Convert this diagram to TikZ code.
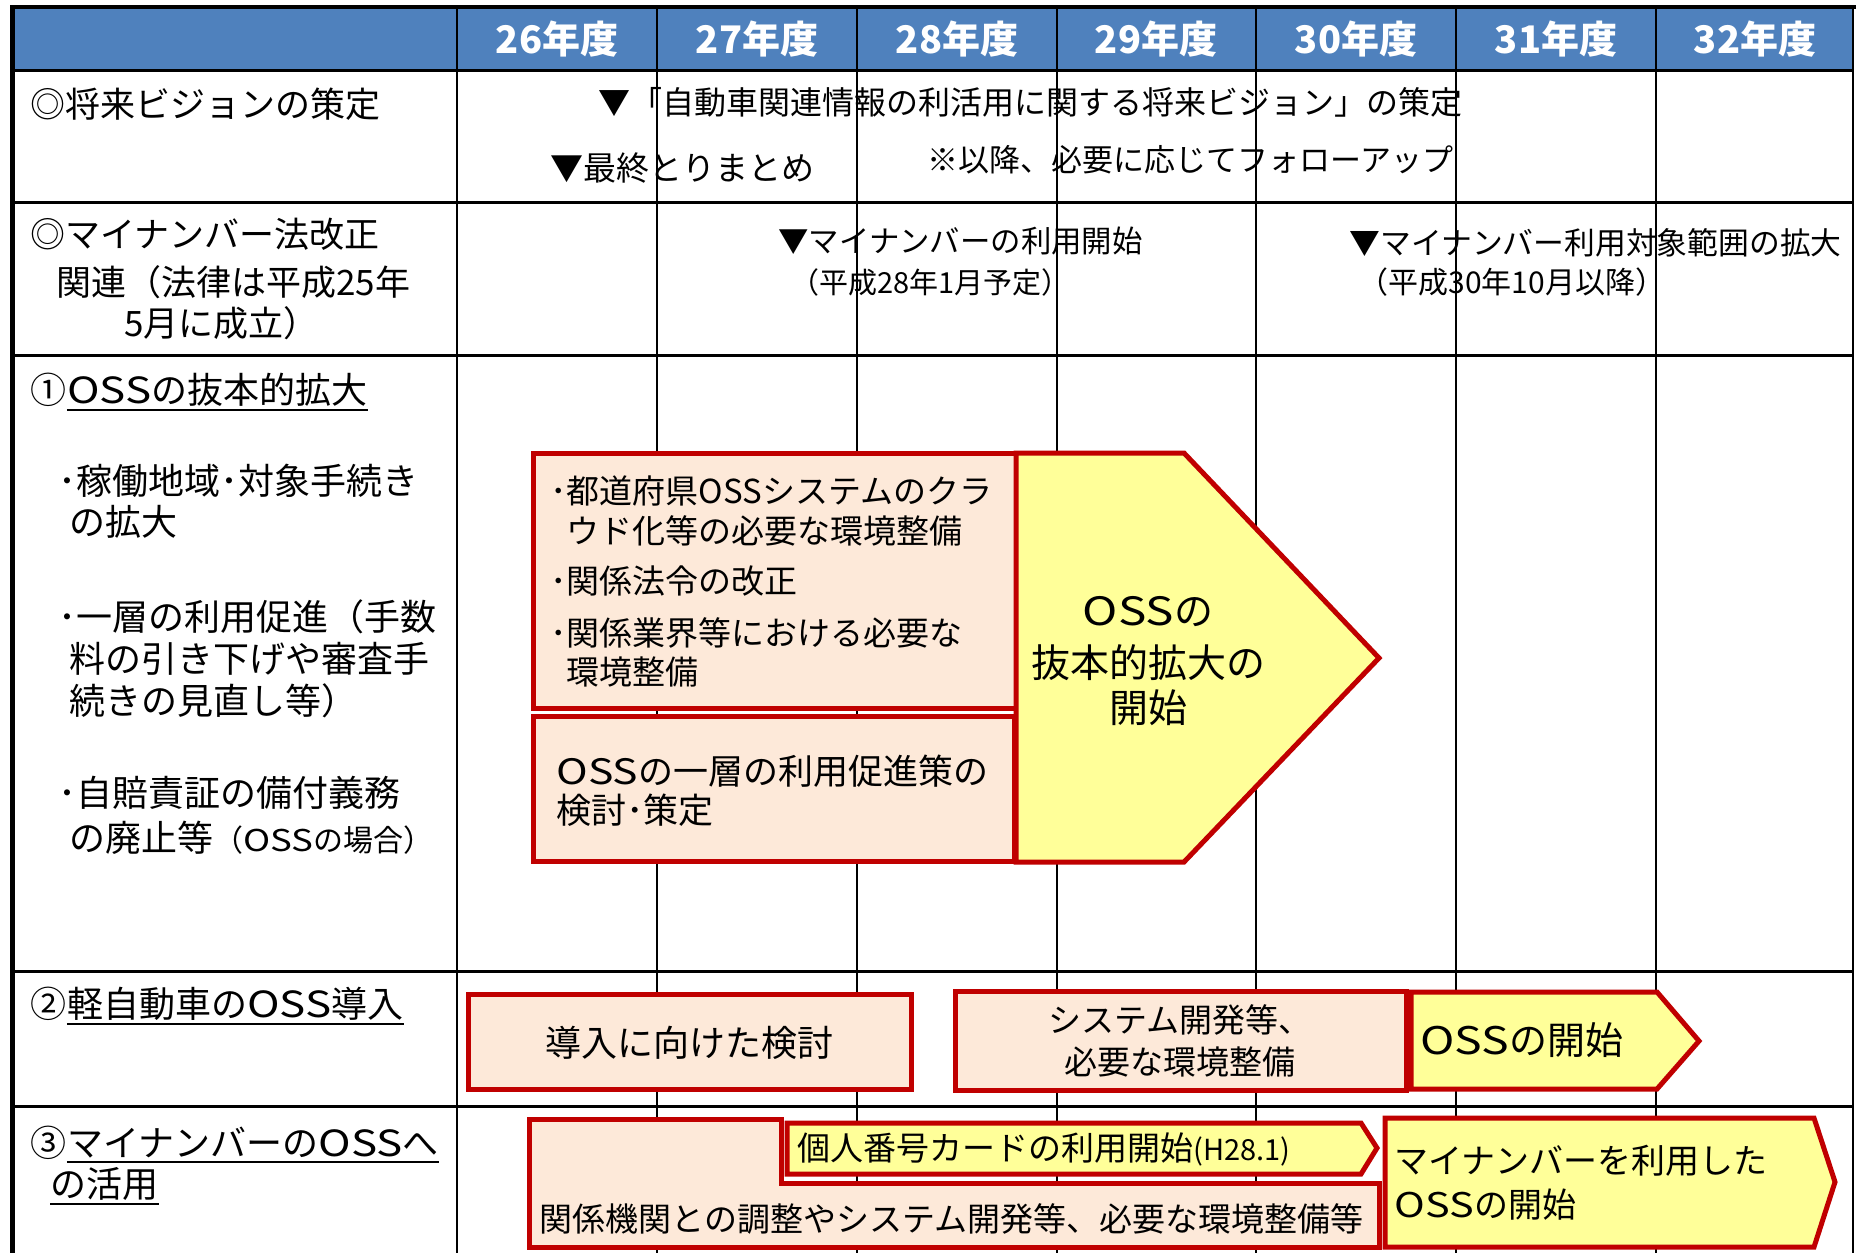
\documentclass[tikz,border=0pt]{standalone}
\usepackage{fontspec}
\setmainfont{Noto Sans CJK JP}
\newfontfamily\ossf{Noto Sans CJK JP}[FakeStretch=1.22]
\newcommand\OSS{{\ossf OSS}}
\definecolor{hdrblue}{HTML}{4F81BD}
\definecolor{boxred}{HTML}{C00000}
\definecolor{peach}{HTML}{FDE9D9}
\definecolor{lightyel}{HTML}{FFFF99}
\newcommand\fpx[1]{\fontsize{#1}{#1}\selectfont}
\begin{document}
\begin{tikzpicture}[x=0.5pt,y=-0.5pt,
  txt/.style={anchor=west,inner sep=0pt,text=black},
  ctxt/.style={anchor=center,inner sep=0pt,text=black},
  hdrtxt/.style={anchor=center,inner sep=0pt,text=white,font=\fpx{19pt}\bfseries},
  pbox/.style={draw=boxred,fill=peach,line width=2.5pt,line join=miter},
  ybox/.style={draw=boxred,fill=lightyel,line width=2.5pt,line join=miter},
  rowline/.style={line width=1.5pt},
  colline/.style={line width=1pt},
  uline/.style={line width=1.1pt}]
\useasboundingbox (0,0) rectangle (1856,1253);
\fill[white] (0,0) rectangle (1856,1253);
% header band
\fill[hdrblue] (12,7) rectangle (1853,70);
% grid
\foreach \x in {657,857,1057,1256,1456,1656} \draw[colline] (\x,7) -- (\x,1253);
\draw[line width=1.3pt] (457,7) -- (457,1253);
\draw[colline] (1853,7) -- (1853,1253);
\foreach \y in {70,202,355,971,1106} \draw[rowline] (12,\y) -- (1853,\y);
\draw[line width=2pt] (10,7) -- (1856,7);
\draw[line width=2.5pt] (12,5) -- (12,1253);
% header labels
\foreach \x/\t in {557/26,757/27,957/28,1156/29,1356/30,1556/31,1755/32}
  \node[hdrtxt] (h\t) at (\x,39) {\t 年度};
% left column labels
\node[txt,font=\fpx{17.5pt}] (l1) at (30,104) {◎将来ビジョンの策定};
\node[txt,font=\fpx{17.5pt}] (l2a) at (30,234) {◎マイナンバー法改正};
\node[txt,font=\fpx{17.5pt}] (l2b) at (56,282) {関連（法律は平成25年};
\node[txt,font=\fpx{17.5pt}] (l2c) at (124,323) {5月に成立）};
\node[txt,font=\fpx{18pt}] (l3n) at (30,390) {①};
\node[txt,font=\fpx{18pt}] (l3t) at (l3n.east) {\OSS の抜本的拡大};
\draw[uline] ([yshift=-1.5pt]l3t.south west) -- ([yshift=-1.5pt]l3t.south east);
\node[txt,font=\fpx{18pt}] (b1a) at (58,481) {･稼働地域･対象手続き};
\node[txt,font=\fpx{18pt}] (b1b) at (69,522) {の拡大};
\node[txt,font=\fpx{18pt}] (b2a) at (58,617) {･一層の利用促進（手数};
\node[txt,font=\fpx{18pt}] (b2b) at (69,659) {料の引き下げや審査手};
\node[txt,font=\fpx{18pt}] (b2c) at (69,701) {続きの見直し等）};
\node[txt,font=\fpx{18pt}] (b3a) at (58,793) {･自賠責証の備付義務};
\node[txt,font=\fpx{18pt}] (b3b) at (69,838) {の廃止等{\fpx{15pt}（\OSS の場合）}};
\node[txt,font=\fpx{18pt}] (l4n) at (30,1004) {②};
\node[txt,font=\fpx{18pt}] (l4t) at (l4n.east) {軽自動車の\OSS 導入};
\draw[uline] ([yshift=-1.5pt]l4t.south west) -- ([yshift=-1.5pt]l4t.south east);
\node[txt,font=\fpx{18pt}] (l5n) at (30,1143) {③};
\node[txt,font=\fpx{18pt}] (l5t) at (l5n.east) {マイナンバーの\OSS へ};
\draw[uline] ([yshift=-1.5pt]l5t.south west) -- ([yshift=-1.5pt]l5t.south east);
\node[txt,font=\fpx{18pt}] (l5u) at (50,1184) {の活用};
\draw[uline] ([yshift=-1.5pt]l5u.south west) -- ([yshift=-1.5pt]l5u.south east);
% row 1 timeline texts
\node[txt,font=\fpx{16pt}] (v1) at (598,102) {▼「自動車関連情報の利活用に関する将来ビジョン」の策定};
\node[txt,font=\fpx{16.5pt}] (v2) at (550,168) {▼最終とりまとめ};
\node[txt,font=\fpx{15.5pt}] (v3) at (927,160) {※以降、必要に応じてフォローアップ};
% row 2 timeline texts
\node[txt,font=\fpx{15.2pt}] (m1) at (778,241) {▼マイナンバーの利用開始};
\node[txt,font=\fpx{14.5pt}] (m1s) at (790,282) {（平成28年1月予定）};
\node[txt,font=\fpx{15.4pt}] (m2) at (1349,243) {▼マイナンバー利用対象範囲の拡大};
\node[txt,font=\fpx{15pt}] (m2s) at (1358,282) {（平成30年10月以降）};
% row 3 boxes
\draw[pbox] (533,453) rectangle (1016,708);
\draw[pbox] (533,716) rectangle (1014,861);
\draw[ybox] (1016,453) -- (1184,453) -- (1379,658) -- (1184,862) -- (1016,862) -- cycle;
\node[txt,font=\fpx{16.5pt}] (a1) at (550,491) {･都道府県OSSシステムのクラ};
\node[txt,font=\fpx{16.5pt}] (a2) at (566,531) {ウド化等の必要な環境整備};
\node[txt,font=\fpx{16.5pt}] (a3) at (550,581) {･関係法令の改正};
\node[txt,font=\fpx{16.5pt}] (a4) at (550,633) {･関係業界等における必要な};
\node[txt,font=\fpx{16.5pt}] (a5) at (566,672) {環境整備};
\node[txt,font=\fpx{17.5pt}] (bb1) at (556,771) {\OSS の一層の利用促進策の};
\node[txt,font=\fpx{17.5pt}] (bb2) at (556,810) {検討･策定};
\node[ctxt,font=\fpx{19.5pt}] (c1) at (1148,612) {\OSS の};
\node[ctxt,font=\fpx{19.5pt}] (c2) at (1148,663) {抜本的拡大の};
\node[ctxt,font=\fpx{19.5pt}] (c3) at (1148,708) {開始};
% row 4 boxes
\draw[pbox] (468,994) rectangle (911,1089);
\node[ctxt,font=\fpx{18pt}] (d1) at (689,1043) {導入に向けた検討};
\draw[pbox] (955,991) rectangle (1406,1090);
\node[ctxt,font=\fpx{16.5pt}] (e1) at (1180,1020) {システム開発等、};
\node[ctxt,font=\fpx{16.5pt}] (e2) at (1180,1062) {必要な環境整備};
\draw[ybox] (1411,992) -- (1657,992) -- (1699,1041) -- (1657,1089) -- (1411,1089) -- cycle;
\node[txt,font=\fpx{19pt}] (f1) at (1420,1040) {\OSS の開始};
% row 5 boxes
\draw[pbox] (529,1119) -- (781,1119) -- (781,1183) -- (1379,1183) -- (1379,1247) -- (529,1247) -- cycle;
\node[txt,font=\fpx{16.5pt}] (g1) at (539,1219) {関係機関との調整やシステム開発等、必要な環境整備等};
\draw[ybox] (787,1123) -- (1361,1123) -- (1377,1148) -- (1361,1174) -- (787,1174) -- cycle;
\node[txt,font=\fpx{16.5pt}] (h1) at (797,1149) {個人番号カードの利用開始{\fpx{14.5pt}(H28.1)}};
\draw[ybox] (1385,1118) -- (1814,1118) -- (1835,1182) -- (1814,1247) -- (1385,1247) -- cycle;
\node[txt,font=\fpx{17pt}] (i1) at (1394,1161) {マイナンバーを利用した};
\node[txt,font=\fpx{17pt}] (i2) at (1394,1205) {\OSS の開始};
\end{tikzpicture}
\end{document}
